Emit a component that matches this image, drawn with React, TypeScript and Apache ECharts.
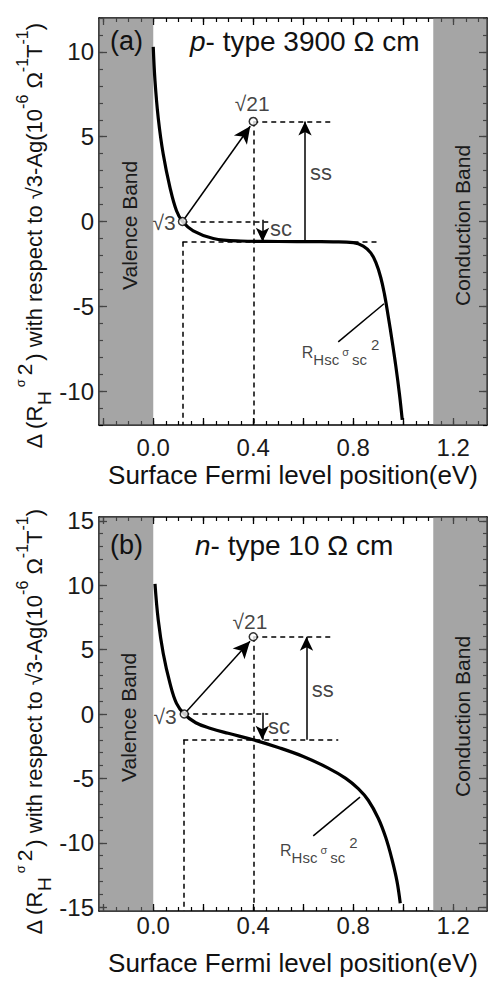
import React, { useEffect, useRef } from 'react';
import * as echarts from 'echarts';

const FONT = "'Liberation Sans', Arial, Helvetica, sans-serif";

// ---------- x axis (shared) ----------
const X_MIN = -0.217;
const X_MAX = 1.335;
const X_LABELS = [0, 0.4, 0.8, 1.2];
const X_MAJOR_TICKS = [-0.2, 0, 0.2, 0.4, 0.6, 0.8, 1.0, 1.2];
const X_MINOR_TICKS = [-0.2, -0.15, -0.1, -0.05, 0, 0.05, 0.1, 0.15, 0.2, 0.25, 0.3, 0.35, 0.4, 0.45, 0.5, 0.55, 0.6, 0.65, 0.7, 0.75, 0.8, 0.85, 0.9, 0.95, 1.0, 1.05, 1.1, 1.15, 1.2, 1.25, 1.3];
const X_NAME = 'Surface Fermi level position(eV)';
const VALENCE_BAND = [X_MIN, 0];
const CONDUCTION_BAND = [1.12, X_MAX];
const BAND_NAMES = ['Valence Band', 'Conduction Band'];

// ---------- panel (a) ----------
const A_Y_MIN = -12;
const A_Y_MAX = 12;
const A_Y_LABELS = [-10, -5, 0, 5, 10];
const A_Y_MINOR = [-12, -11, -10, -9, -8, -7, -6, -5, -4, -3, -2, -1, 0, 1, 2, 3, 4, 5, 6, 7, 8, 9, 10, 11, 12];
const A_CURVE_X = [0.0, 0.007, 0.02, 0.04, 0.067, 0.093, 0.117, 0.16, 0.24, 0.35, 0.5, 0.65, 0.72, 0.8, 0.84, 0.87, 0.89, 0.91, 0.925, 0.94, 0.955, 0.97, 0.985, 0.996];
const A_CURVE_Y = [10.3, 8.3, 6.1, 3.96, 2.0, 0.63, 0.0, -0.55, -1.0, -1.15, -1.18, -1.19, -1.2, -1.25, -1.45, -1.85, -2.4, -3.3, -4.3, -5.6, -7.0, -8.5, -10.2, -11.7];
const A_POINTS = [[0.117, 0], [0.4, 5.9]];
const A_DASHED = [
  [[0.4, 5.9], [0.71, 5.9]],
  [[0.117, 0], [0.46, 0]],
  [[0.117, -1.2], [0.895, -1.2]],
  [[0.117, -1.2], [0.117, -12]],
  [[0.4, 5.9], [0.4, -12]],
];
const A_BIG_ARROW = [[0.117, 0], [0.388, 5.62]];
const A_SMALL_ARROWS = [
  [[0.437, 0.1], [0.437, -1.2]],
  [[0.607, -1.2], [0.607, 5.9]],
];
const A_LEADER = [[0.74, -7.1], [0.923, -4.85]];
const A_TEXTS = [
  { t: '√21', at: [0.396, 6.96], align: 'center' },
  { t: '√3', at: [0.09, -0.08], align: 'right' },
  { t: 'sc', at: [0.467, -0.43], align: 'left' },
  { t: 'ss', at: [0.627, 2.88], align: 'left' },
  { t: 'R', at: [0.594, -7.7], align: 'left', rich: true },
];

// ---------- panel (b) ----------
const B_Y_MIN = -15.3;
const B_Y_MAX = 15.3;
const B_Y_LABELS = [-15, -10, -5, 0, 5, 10, 15];
const B_Y_MINOR = [-15, -14, -13, -12, -11, -10, -9, -8, -7, -6, -5, -4, -3, -2, -1, 0, 1, 2, 3, 4, 5, 6, 7, 8, 9, 10, 11, 12, 13, 14, 15];
const B_CURVE_X = [0.007, 0.02, 0.04, 0.067, 0.093, 0.124, 0.17, 0.23, 0.3, 0.4, 0.5, 0.6, 0.7, 0.77, 0.82, 0.86, 0.9, 0.93, 0.955, 0.975, 0.988];
const B_CURVE_Y = [10.1, 7.3, 4.7, 2.38, 0.83, 0.0, -0.68, -1.12, -1.5, -2.0, -2.6, -3.3, -4.2, -5.0, -5.8, -6.7, -8.1, -9.6, -11.3, -13.0, -14.7];
const B_POINTS = [[0.124, 0], [0.4, 6.0]];
const B_DASHED = [
  [[0.4, 6.0], [0.714, 6.0]],
  [[0.124, 0], [0.46, 0]],
  [[0.12, -2.0], [0.74, -2.0]],
  [[0.12, -2.0], [0.12, -15.3]],
  [[0.4, 6.0], [0.4, -15.3]],
];
const B_BIG_ARROW = [[0.124, 0], [0.387, 5.65]];
const B_SMALL_ARROWS = [
  [[0.436, 0.1], [0.436, -2.0]],
  [[0.613, -2.0], [0.613, 6.0]],
];
const B_LEADER = [[0.64, -9.46], [0.827, -6.46]];
const B_TEXTS = [
  { t: '√21', at: [0.387, 7.16], align: 'center' },
  { t: '√3', at: [0.094, -0.16], align: 'right' },
  { t: 'sc', at: [0.459, -0.98], align: 'left' },
  { t: 'ss', at: [0.634, 1.94], align: 'left' },
  { t: 'R', at: [0.507, -10.6], align: 'left', rich: true },
];

const PANEL_TITLES = [
  { tag: '(a)', kind: 'p', rest: '- type 3900 Ω cm' },
  { tag: '(b)', kind: 'n', rest: '- type 10 Ω cm' },
];

const Y_NAME =
  '{b|Δ (R}{h|H}{s|σ}{t|2}{b|) with respect to √3-Ag(10}{p|-6}{b| Ω}{p|-1}{b|T}{p|-1}{b|)}';

const GRIDS = [
  { left: 99, top: 18, width: 388, height: 407 },
  { left: 99, top: 517, width: 388, height: 394 },
];

function buildAxes(g: number, yMin: number, yMax: number, yLabels: number[], yMinor: number[], labelMargin: number, nameGap: number) {
  const line = { show: true, onZero: false, lineStyle: { color: '#000', width: 1.5 } };
  const noLine = { show: false, onZero: false };
  const x = [
    {
      type: 'value', gridIndex: g, position: 'bottom', min: X_MIN, max: X_MAX,
      axisLine: line,
      axisTick: { show: true, inside: true, length: 7, customValues: X_MAJOR_TICKS, lineStyle: { color: '#000', width: 1.3 } },
      axisLabel: { show: true, customValues: X_LABELS, formatter: (v: number) => v.toFixed(1), fontSize: 24, fontFamily: FONT, color: '#1a1a1a', margin: labelMargin },
      splitLine: { show: false },
      name: X_NAME, nameLocation: 'middle', nameGap,
      nameTextStyle: { fontSize: 26, fontFamily: FONT, color: '#111' },
    },
    {
      type: 'value', gridIndex: g, position: 'bottom', min: X_MIN, max: X_MAX,
      axisLine: noLine,
      axisTick: { show: true, inside: true, length: 4, customValues: X_MINOR_TICKS, lineStyle: { color: '#000', width: 1.2 } },
      axisLabel: { show: false }, splitLine: { show: false },
    },
    {
      type: 'value', gridIndex: g, position: 'top', min: X_MIN, max: X_MAX,
      axisLine: line,
      axisTick: { show: true, inside: true, length: 7, customValues: X_MAJOR_TICKS, lineStyle: { color: '#000', width: 1.3 } },
      axisLabel: { show: false }, splitLine: { show: false },
    },
    {
      type: 'value', gridIndex: g, position: 'top', min: X_MIN, max: X_MAX,
      axisLine: noLine,
      axisTick: { show: true, inside: true, length: 4, customValues: X_MINOR_TICKS, lineStyle: { color: '#000', width: 1.2 } },
      axisLabel: { show: false }, splitLine: { show: false },
    },
  ];
  const y = [
    {
      type: 'value', gridIndex: g, position: 'left', min: yMin, max: yMax,
      axisLine: line,
      axisTick: { show: true, inside: true, length: 8, customValues: yLabels, lineStyle: { color: '#000', width: 1.3 } },
      axisLabel: { show: true, customValues: yLabels, fontSize: 24, fontFamily: FONT, color: '#1a1a1a', margin: 5 },
      splitLine: { show: false },
    },
    {
      type: 'value', gridIndex: g, position: 'left', min: yMin, max: yMax,
      axisLine: noLine,
      axisTick: { show: true, inside: true, length: 4, customValues: yMinor, lineStyle: { color: '#000', width: 1.2 } },
      axisLabel: { show: false }, splitLine: { show: false },
    },
    {
      type: 'value', gridIndex: g, position: 'right', min: yMin, max: yMax,
      axisLine: line,
      axisTick: { show: true, inside: true, length: 8, customValues: yLabels, lineStyle: { color: '#000', width: 1.3 } },
      axisLabel: { show: false }, splitLine: { show: false },
    },
    {
      type: 'value', gridIndex: g, position: 'right', min: yMin, max: yMax,
      axisLine: noLine,
      axisTick: { show: true, inside: true, length: 4, customValues: yMinor, lineStyle: { color: '#000', width: 1.2 } },
      axisLabel: { show: false }, splitLine: { show: false },
    },
  ];
  return { x, y };
}

const seg = (s: number[][]) => [{ coord: s[0] }, { coord: s[1] }];

const R_RICH = {
  r: { fontSize: 16, fontFamily: FONT, color: '#111', lineHeight: 30, verticalAlign: 'middle' },
  h: { fontSize: 15, fontFamily: FONT, color: '#111', lineHeight: 12, verticalAlign: 'bottom' },
  s: { fontSize: 11, fontFamily: FONT, color: '#111', lineHeight: 26, verticalAlign: 'middle', padding: [0, 3, 0, 3] },
  u: { fontSize: 15, fontFamily: FONT, color: '#111', lineHeight: 10, verticalAlign: 'top', padding: [0, 0, 0, 4] },
};

function buildSeries(p: number, cx: number[], cy: number[], points: number[][], dashed: number[][][],
  bigArrow: number[][], smallArrows: number[][][], leader: number[][], texts: any[]) {
  const xi = p * 4;
  const yi = p * 4;
  const base = { xAxisIndex: xi, yAxisIndex: yi, silent: true, animation: false };
  const curve = cx.map((v, i) => [v, cy[i]]);
  return [
    {
      ...base, type: 'line', name: 'curve' + p, data: curve, symbol: 'none', smooth: 0.4,
      lineStyle: { color: '#000', width: 3.2 }, z: 3,
      markArea: {
        silent: true,
        itemStyle: { color: 'rgba(110,110,110,0.62)' },
        label: { show: false },
        data: [
          [{ xAxis: VALENCE_BAND[0] }, { xAxis: VALENCE_BAND[1] }],
          [{ xAxis: CONDUCTION_BAND[0] }, { xAxis: CONDUCTION_BAND[1] }],
        ],
      },
    },
    {
      ...base, type: 'line', name: 'dash' + p, data: [], z: 4,
      markLine: {
        silent: true, symbol: ['none', 'none'], label: { show: false },
        lineStyle: { color: '#000', width: 1.5, type: [5, 4] },
        emphasis: { disabled: true },
        data: dashed.map(seg),
      },
    },
    {
      ...base, type: 'line', name: 'arrows' + p, data: [], z: 5,
      markLine: {
        silent: true, label: { show: false }, symbol: ['none', 'arrow'],
        lineStyle: { color: '#000', width: 1.5, type: 'solid' },
        emphasis: { disabled: true },
        data: [
          [{ coord: bigArrow[0], symbol: 'none' }, { coord: bigArrow[1], symbol: 'arrow', symbolSize: [12, 17] }],
          ...smallArrows.map((s) => [{ coord: s[0], symbol: 'none' }, { coord: s[1], symbol: 'arrow', symbolSize: [10, 14] }]),
          [{ coord: leader[0], symbol: 'none' }, { coord: leader[1], symbol: 'none' }],
        ],
      },
    },
    {
      ...base, type: 'scatter', name: 'pts' + p, data: points, symbol: 'circle', symbolSize: 8, z: 8,
      itemStyle: { color: '#fff', borderColor: '#000', borderWidth: 1.5 },
    },
    {
      ...base, type: 'scatter', name: 'txt' + p, symbolSize: 1, z: 9,
      itemStyle: { color: 'rgba(0,0,0,0)' },
      data: texts.map((t) => ({
        value: t.at,
        label: {
          show: true, position: 'inside', align: t.align, verticalAlign: 'middle', color: '#111',
          fontFamily: FONT, fontSize: t.t === 'sc' || t.t === 'ss' ? 22 : 21,
          formatter: t.rich ? '{r|R}{h|Hsc}{s|σ}{h|sc}{u|2}' : t.t,
          rich: t.rich ? R_RICH : undefined,
        },
      })),
    },
  ];
}

function buildGraphic() {
  const items: any[] = [];
  const centers = [41, 545];
  const tagX = [110, 110];
  const titleX = [190, 195];
  PANEL_TITLES.forEach((pt, i) => {
    items.push({
      type: 'text', x: tagX[i], y: centers[i], silent: true, z: 100,
      style: { text: pt.tag, fontSize: 27, fontFamily: FONT, fill: '#111', align: 'left', verticalAlign: 'middle' },
    });
    items.push({
      type: 'text', x: titleX[i], y: centers[i], silent: true, z: 100,
      style: {
        text: '{i|' + pt.kind + '}{n|' + pt.rest + '}', align: 'left', verticalAlign: 'middle',
        rich: {
          i: { fontSize: 28, fontFamily: FONT, fontStyle: 'italic', fill: '#111' },
          n: { fontSize: 28, fontFamily: FONT, fill: '#111' },
        },
      },
    });
  });
  // band names (rotated); anchored at the bottom start of each word
  const bandStart = [
    [[129, 290], [462, 306]],
    [[128, 782], [462, 797]],
  ];
  bandStart.forEach((panel) => {
    panel.forEach((pos, i) => {
      items.push({
        type: 'text', x: pos[0], y: pos[1], rotation: Math.PI / 2, silent: true, z: 100,
        style: { text: BAND_NAMES[i], fontSize: 21, fontFamily: FONT, fill: '#1a1a1a', align: 'left', verticalAlign: 'middle' },
      });
    });
  });
  const yNameCenters = [236, 722];
  yNameCenters.forEach((cy) => {
    items.push({
      type: 'text', x: 34, y: cy, rotation: Math.PI / 2, silent: true, z: 100,
      style: {
        text: Y_NAME, align: 'center', verticalAlign: 'middle',
        rich: {
          b: { fontSize: 22, fontFamily: FONT, fill: '#111', lineHeight: 40, verticalAlign: 'middle' },
          h: { fontSize: 19, fontFamily: FONT, fill: '#111', lineHeight: 26, verticalAlign: 'bottom' },
          s: { fontSize: 13, fontFamily: FONT, fill: '#111', lineHeight: 20, verticalAlign: 'top', padding: [0, 4, 0, 4] },
          t: { fontSize: 21, fontFamily: FONT, fill: '#111', lineHeight: 16, verticalAlign: 'top', padding: [0, 3, 0, 0] },
          p: { fontSize: 16, fontFamily: FONT, fill: '#111', lineHeight: 14, verticalAlign: 'top' },
        },
      },
    });
  });
  return items;
}

export default function App() {
  const ref = useRef<HTMLDivElement>(null);
  useEffect(() => {
    if (!ref.current) return;
    const chart = echarts.init(ref.current, undefined, { renderer: 'svg' });
    const a = buildAxes(0, A_Y_MIN, A_Y_MAX, A_Y_LABELS, A_Y_MINOR, 10, 37);
    const b = buildAxes(1, B_Y_MIN, B_Y_MAX, B_Y_LABELS, B_Y_MINOR, 2, 39);
    chart.setOption({
      animation: false,
      backgroundColor: '#fff',
      textStyle: { fontFamily: FONT },
      grid: GRIDS.map((g) => ({ ...g, containLabel: false })),
      xAxis: [...a.x, ...b.x],
      yAxis: [...a.y, ...b.y],
      series: [
        ...buildSeries(0, A_CURVE_X, A_CURVE_Y, A_POINTS, A_DASHED, A_BIG_ARROW, A_SMALL_ARROWS, A_LEADER, A_TEXTS),
        ...buildSeries(1, B_CURVE_X, B_CURVE_Y, B_POINTS, B_DASHED, B_BIG_ARROW, B_SMALL_ARROWS, B_LEADER, B_TEXTS),
      ],
      graphic: buildGraphic(),
    });
    return () => chart.dispose();
  }, []);
  return <div ref={ref} style={{ width: 490, height: 985, position: 'absolute', left: 0, top: 0 }} />;
}
